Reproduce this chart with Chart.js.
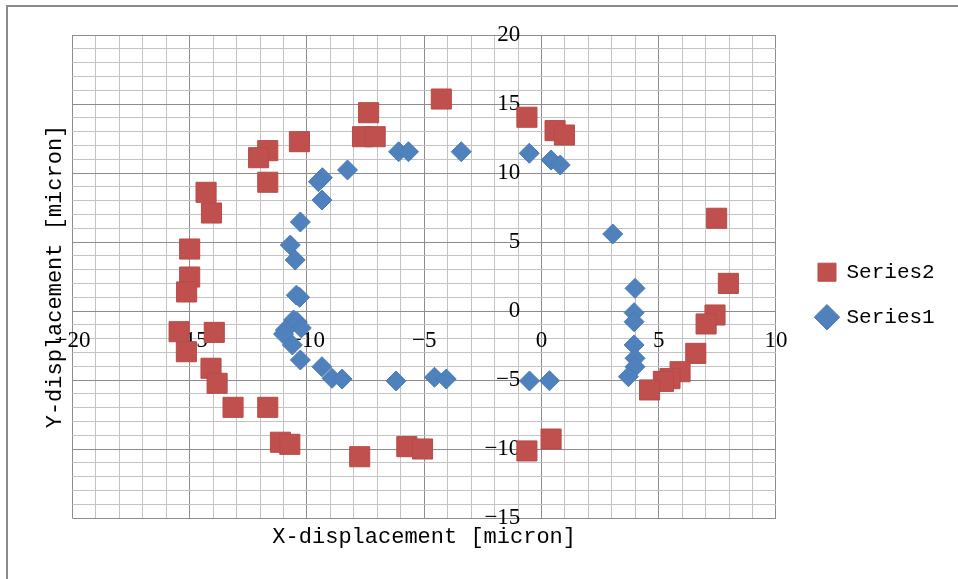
<!DOCTYPE html>
<html>
<head>
<meta charset="utf-8">
<script src="https://cdn.jsdelivr.net/npm/chart.js@4.4.1/dist/chart.umd.min.js"></script>
<style>
  html, body { margin: 0; padding: 0; background: #fff; overflow: hidden; }
  #wrap { position: relative; width: 958px; height: 579px; }
  #frame { position: absolute; left: 6px; top: 5px; width: 1000px; height: 700px; border: 2px solid #8a8a8a; }
  canvas { position: absolute; left: 0; top: 0; }
</style>
</head>
<body>
<div id="wrap">
  <div id="frame"></div>
  <canvas id="chart" width="958" height="579"></canvas>
</div>
<script>
// --- data ---
const series1Name = 'Series1';
const series2Name = 'Series2';

const series1X = [-3.42, -0.52, 0.41, 0.8, -6.09, -5.67, -8.27, -9.34, -9.51, -9.36, -10.28, -10.71, -10.5,
  -10.31, -10.45, -10.57, -10.41, -10.24, -10.92, -11.0, -10.62, -10.28, -9.36, -8.93, -8.5, -6.2, -4.56, -4.06,
  -0.51, 0.34, 3.04, 3.99, 3.95, 3.95, 3.95, 3.99, 3.99, 3.71];
const series1Y = [11.54, 11.43, 10.94, 10.58, 11.54, 11.54, 10.22, 9.66, 9.37, 8.04, 6.45, 4.78, 3.7,
  0.99, 1.15, -0.65, -0.8, -1.23, -1.38, -1.67, -2.46, -3.55, -4.04, -4.88, -4.93, -5.07, -4.8, -4.93,
  -5.07, -5.05, 5.58, 1.64, -0.12, -0.78, -2.46, -3.43, -4.04, -4.76];

const series2X = [-4.27, -7.37, -0.62, 0.58, 0.98, -7.63, -7.09, -10.32, -11.67, -12.06, -11.67, -14.3, -14.07,
  -15.0, -15.0, -15.13, -15.45, -13.95, -15.14, -14.09, -13.83, -13.15, -11.67, -11.13, -10.73, -7.75, -5.74,
  -5.07, -0.62, 0.41, 7.47, 7.97, 7.4, 7.02, 6.58, 5.91, 5.48, 5.2, 4.61];
const series2Y = [15.36, 14.37, 14.04, 13.07, 12.75, 12.63, 12.63, 12.27, 11.62, 11.11, 9.33, 8.6, 7.1,
  4.49, 2.46, 1.38, -1.5, -1.55, -2.95, -4.15, -5.24, -6.98, -6.98, -9.51, -9.66, -10.56, -9.83,
  -10.0, -10.14, -9.28, 6.72, 2.0, -0.29, -0.94, -3.07, -4.4, -4.9, -5.1, -5.72];

const xRange = [-20, 10];
const yRange = [-15, 20];
const xTitle = 'X-displacement [micron]';
const yTitle = 'Y-displacement [micron]';

const toPoints = (xs, ys) => xs.map((x, i) => ({ x: x, y: ys[i] }));

const majorGrid = '#8c8c8c';
const minorGrid = '#c3c3c3';
const gridColor = ctx => (ctx.tick && Math.abs(ctx.tick.value % 5) < 1e-9) ? majorGrid : minorGrid;
const tickLabel = v => (Math.abs(v % 5) < 1e-9) ? (v < 0 ? '\u2212' + Math.abs(v) : String(v)) : '';

new Chart(document.getElementById('chart'), {
    type: 'scatter',
    data: {
        datasets: [
            {
                label: series2Name,
                data: toPoints(series2X, series2Y),
                pointStyle: 'rect',
                pointRadius: 14.2,
                pointHoverRadius: 14.2,
                backgroundColor: '#c0504d',
                borderColor: '#b94a47',
                borderWidth: 1
            },
            {
                label: series1Name,
                data: toPoints(series1X, series1Y),
                pointStyle: 'rectRot',
                pointRadius: 10,
                pointHoverRadius: 10,
                backgroundColor: '#4f81bd',
                borderColor: '#4a7bb6',
                borderWidth: 1
            }
        ]
    },
    options: {
        responsive: false,
        animation: false,
        layout: { padding: { top: 35, left: 0, bottom: 24.6, right: 13.3 } },
        scales: {
            x: {
                type: 'linear',
                min: xRange[0],
                max: xRange[1],
                position: { y: 0 },
                grid: { color: gridColor, lineWidth: 1, drawTicks: false },
                border: { color: majorGrid, width: 1 },
                ticks: {
                    stepSize: 1,
                    autoSkip: false,
                    maxRotation: 0,
                    minRotation: 0,
                    padding: 16,
                    color: '#000',
                    font: { family: '"Liberation Serif", "DejaVu Serif", serif', size: 23 },
                    callback: tickLabel
                }
            },
            y: {
                type: 'linear',
                min: yRange[0],
                max: yRange[1],
                // labels sit a little left of the x = 0 line
                position: { x: -0.9 },
                grid: { color: gridColor, lineWidth: 1, drawTicks: false },
                border: { display: false },
                ticks: {
                    stepSize: 1,
                    autoSkip: false,
                    color: '#000',
                    font: { family: '"Liberation Serif", "DejaVu Serif", serif', size: 23 },
                    callback: tickLabel
                }
            },
            // empty spacer between plot and legend
            gap: {
                type: 'linear',
                position: 'right',
                display: false,
                afterFit: scale => { scale.width = 18; }
            }
        },
        plugins: {
            legend: {
                position: 'right',
                labels: {
                    usePointStyle: true,
                    boxWidth: 18,
                    boxHeight: 18,
                    padding: 24,
                    color: '#000',
                    font: { family: '"Liberation Mono", "DejaVu Sans Mono", monospace', size: 21 }
                }
            },
            title: {
                display: true,
                text: xTitle,
                position: 'bottom',
                fullSize: false,
                color: '#000',
                padding: { top: 6, bottom: 4 },
                font: { family: '"Liberation Mono", "DejaVu Sans Mono", monospace', size: 22, weight: 'normal' }
            },
            subtitle: {
                display: true,
                text: yTitle,
                position: 'left',
                fullSize: false,
                color: '#000',
                padding: { top: 42, bottom: 4 },
                font: { family: '"Liberation Mono", "DejaVu Sans Mono", monospace', size: 22, weight: 'normal' }
            },
            tooltip: { enabled: false }
        }
    }
});
</script>
</body>
</html>
